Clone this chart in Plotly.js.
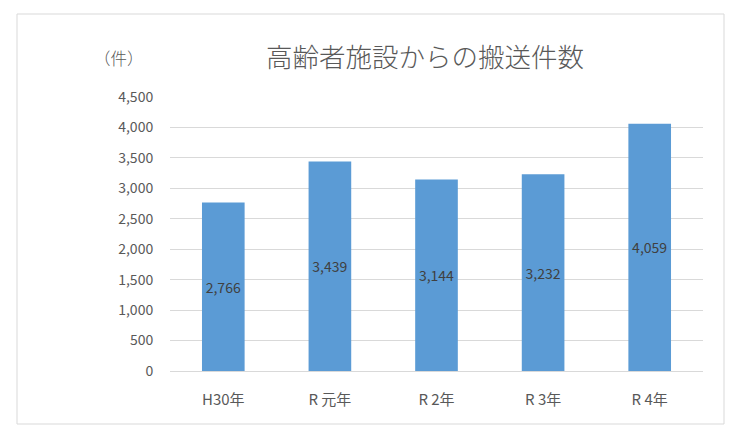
<!DOCTYPE html>
<html>
<head>
<meta charset="utf-8">
<script src="https://cdn.plot.ly/plotly-3.0.1.min.js"></script>
<style>html,body{margin:0;padding:0;background:#fff;}#chart{width:744px;height:444px;}</style>
</head>
<body>
<div id="chart"></div>
<script>
const categories = ["H30年", "R 元年", "R 2年", "R 3年", "R 4年"];
const values = [2766, 3439, 3144, 3232, 4059];
const tickValues = [0, 500, 1000, 1500, 2000, 2500, 3000, 3500, 4000, 4500];
const tickLabels = ["0", "500", "1,000", "1,500", "2,000", "2,500", "3,000", "3,500", "4,000", "4,500"];
const labels = values.map(v => v.toLocaleString("en-US"));

const FONT = '"Noto Sans CJK JP", "Open Sans", sans-serif';

const trace = {
  type: "bar",
  x: categories,
  y: values,
  text: labels,
  textposition: "inside",
  insidetextanchor: "middle",
  textangle: 0,
  textfont: {family: FONT, size: 14, color: "#404040"},
  marker: {color: "#5b9bd5"},
  hoverinfo: "skip"
};

const layout = {
  width: 744,
  height: 444,
  margin: {l: 170, r: 41, t: 97, b: 73},
  paper_bgcolor: "#ffffff",
  plot_bgcolor: "#ffffff",
  showlegend: false,
  bargap: 0.6,
  font: {family: FONT, color: "#595959"},
  title: {
    text: "高齢者施設からの搬送件数",
    font: {family: FONT, size: 26.5, color: "#595959", weight: 300},
    xref: "container", x: 425 / 744, xanchor: "center",
    yref: "container", y: 1 - 58 / 444, yanchor: "middle"
  },
  xaxis: {
    type: "category",
    showgrid: false,
    showline: false,
    zeroline: false,
    ticks: "outside", ticklen: 15, tickcolor: "rgba(0,0,0,0)",
    tickfont: {family: FONT, size: 15, color: "#595959"}
  },
  yaxis: {
    range: [0, 4500],
    tickmode: "array",
    tickvals: tickValues,
    ticktext: tickLabels,
    showgrid: true,
    gridcolor: "#d9d9d9",
    gridwidth: 1,
    zeroline: true,
    zerolinecolor: "#d9d9d9",
    zerolinewidth: 1,
    showline: false,
    ticks: "outside", ticklen: 13, tickcolor: "rgba(0,0,0,0)",
    tickfont: {family: FONT, size: 14, color: "#595959"}
  },
  annotations: [{
    text: "（件）",
    xref: "paper", yref: "paper",
    x: (119 - 170) / 533, y: (371 - 58) / 274,
    xanchor: "center", yanchor: "middle",
    showarrow: false,
    font: {family: FONT, size: 16.5, color: "#595959", weight: 300}
  }],
  shapes: [{
    type: "rect",
    xref: "paper", yref: "paper",
    x0: (17 - 170) / 533, x1: (724 - 170) / 533,
    y0: (371 - 424) / 274, y1: (371 - 14) / 274,
    line: {color: "#d9d9d9", width: 1},
    fillcolor: "rgba(0,0,0,0)",
    layer: "below"
  }]
};

Plotly.newPlot("chart", [trace], layout, {displayModeBar: false, staticPlot: true});
</script>
</body>
</html>
